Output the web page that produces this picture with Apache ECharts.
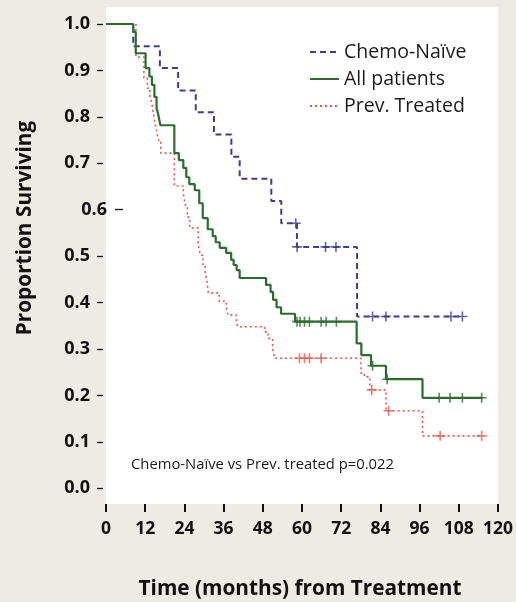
<!DOCTYPE html>
<html><head><meta charset="utf-8">
<script src="https://cdn.jsdelivr.net/npm/echarts@6/dist/echarts.min.js"></script>
<style>html,body{margin:0;padding:0;background:#eeebe5}#c{width:516px;height:602px}</style>
</head><body><div id="c"></div>
<script>
// ---- Data ----
const xTickValues = [0, 12, 24, 36, 48, 60, 72, 84, 96, 108, 120];
const yTickValues = [0, 0.1, 0.2, 0.3, 0.4, 0.5, 0.6, 0.7, 0.8, 0.9, 1.0];
const yShiftedTick = [0.6];

const chemoNaiveTimes = [0, 8.34, 16.49, 22.08, 27.48, 33.07, 38.38, 40.92, 50.60, 53.65, 58.45, 76.85];
const chemoNaiveSurv  = [1.0, 0.952, 0.905, 0.857, 0.810, 0.762, 0.714, 0.667, 0.619, 0.571, 0.520, 0.370];
const chemoNaiveEnd = 109.1;
const chemoNaiveCensor = [58.1, 58.5, 67.2, 70.4, 81.6, 85.7, 105.6, 109.1];

const allPatientsTimes = [0, 8.34, 9.10, 12.12, 13.28, 14.05, 14.81, 15.48, 16.03, 16.64, 20.92, 22.29, 23.66, 24.58, 25.50, 27.18, 28.55, 29.62, 31.15, 32.67, 33.59, 34.81, 36.79, 38.32, 39.08, 40.0, 40.92, 49.01, 50.38, 51.15, 52.21, 53.59, 57.86, 76.73, 78.17, 81.13, 85.71, 96.89];
const allPatientsSurv  = [1.0, 0.983, 0.937, 0.905, 0.887, 0.869, 0.843, 0.819, 0.804, 0.782, 0.722, 0.707, 0.690, 0.670, 0.655, 0.642, 0.614, 0.582, 0.558, 0.543, 0.530, 0.518, 0.507, 0.492, 0.481, 0.470, 0.453, 0.438, 0.423, 0.406, 0.390, 0.376, 0.359, 0.312, 0.287, 0.264, 0.235, 0.195];
const allPatientsEnd = 115.3;
const allPatientsCensor = [58.47, 59.39, 60.76, 62.29, 65.86, 67.39, 70.53, 81.6, 86.1, 101.98, 105.3, 109.1, 115.0];

const prevTreatedTimes = [0, 9.16, 11.60, 12.67, 13.44, 14.05, 14.50, 14.96, 15.57, 16.03, 16.79, 20.92, 23.66, 24.27, 24.89, 25.65, 28.24, 28.85, 29.71, 30.38, 30.99, 31.30, 34.66, 36.85, 37.34, 39.91, 40.31, 48.55, 49.62, 50.99, 51.60, 78.08, 79.08, 80.76, 85.71, 96.89];
const prevTreatedSurv  = [1.0, 0.929, 0.884, 0.862, 0.845, 0.828, 0.808, 0.789, 0.767, 0.750, 0.722, 0.651, 0.636, 0.610, 0.584, 0.561, 0.524, 0.502, 0.481, 0.466, 0.442, 0.421, 0.403, 0.390, 0.373, 0.358, 0.348, 0.337, 0.323, 0.302, 0.280, 0.248, 0.240, 0.212, 0.167, 0.113];
const prevTreatedEnd = 115.3;
const prevTreatedCensor = [59.24, 60.76, 62.29, 65.86, 81.37, 86.5, 102.3, 115.0];

const seriesNames = ['Chemo-Naïve', 'All patients', 'Prev. Treated'];
const pValueText = 'Chemo-Naïve vs Prev. treated p=0.022';
const xTitle = 'Time (months) from Treatment';
const yTitle = 'Proportion Surviving';

// ---- Helpers ----
function stepAt(times, surv, t) {
  let v = surv[0];
  for (let i = 0; i < times.length; i++) { if (times[i] <= t) v = surv[i]; }
  return v;
}
function curve(times, surv, end) {
  const d = times.map((t, i) => [t, surv[i]]);
  d.push([end, surv[surv.length - 1]]);
  return d;
}
function censor(times, surv, cs) { return cs.map(t => [t, stepAt(times, surv, t)]); }

const BLUE = '#3d3f8e', GREEN = '#2e6b2e', RED = '#e5574e';
const plus = 'path://M5,0 L5,10 M0,5 L10,5';
const FONT = 'Open Sans';
const Y_MIN = -0.034, Y_MAX = 1.036;
const mainYTicks = yTickValues.filter(v => yShiftedTick.indexOf(v) < 0);

function lineSeries(name, data, color, type, width, z) {
  return { name, type: 'line', step: 'end', data, symbol: 'none', showSymbol: false, z,
    lineStyle: { color, type, width }, itemStyle: { color: 'rgba(0,0,0,0)' }, animation: false };
}
function censorSeries(data, color, z) {
  return { type: 'scatter', data, symbol: plus, symbolSize: 10, z, silent: true, animation: false,
    itemStyle: { color: 'rgba(0,0,0,0)', borderColor: color, borderWidth: 1.6 } };
}

const chart = echarts.init(document.getElementById('c'), null, { renderer: 'canvas' });
chart.setOption({
  backgroundColor: '#eeebe5',
  animation: false,
  textStyle: { fontFamily: FONT },
  grid: { left: 106, right: 17, top: 7.3, bottom: 97.9, containLabel: false, show: true, backgroundColor: '#ffffff', borderWidth: 0 },
  graphic: [
    { type: 'text', left: 131, top: 457, style: { text: pValueText, fontSize: 14.8, fontFamily: FONT, fill: '#1a1a1a' } },
    { type: 'text', x: 300, y: 589, style: { text: xTitle, fontSize: 20.8, fontWeight: 'bold', fontFamily: FONT, fill: '#111', align: 'center', verticalAlign: 'middle' } },
    { type: 'text', x: 25.5, y: 228, rotation: Math.PI / 2, style: { text: yTitle, fontSize: 20.8, fontWeight: 'bold', fontFamily: FONT, fill: '#111', align: 'center', verticalAlign: 'middle' } }
  ],
  legend: {
    data: seriesNames, orient: 'vertical', left: 304, top: 37, itemWidth: 29, itemHeight: 14, itemGap: 7,
    textStyle: { fontSize: 19.5, color: '#1a1a1a', fontFamily: FONT, lineHeight: 20 }
  },
  xAxis: {
    type: 'value', min: 0, max: 120, interval: 12, position: 'bottom',
    axisLine: { show: false, onZero: false }, splitLine: { show: false },
    axisTick: { show: true, inside: false, length: 8, lineStyle: { color: '#111', width: 2 } },
    axisLabel: { fontSize: 17.5, fontWeight: 'bold', color: '#111', margin: 16, fontFamily: FONT }
  },
  yAxis: [
    { type: 'value', min: Y_MIN, max: Y_MAX, offset: 3, position: 'left',
      axisLine: { show: false, onZero: false }, splitLine: { show: false },
      axisTick: { show: true, length: 6, lineStyle: { color: '#111', width: 1.3 }, customValues: mainYTicks },
      axisLabel: { customValues: mainYTicks, formatter: v => v.toFixed(1), fontSize: 18, fontWeight: 'bold', color: '#111', margin: 13, fontFamily: FONT } },
    { type: 'value', min: Y_MIN, max: Y_MAX, offset: -17, position: 'left',
      axisLine: { show: false, onZero: false }, splitLine: { show: false },
      axisTick: { show: true, length: 8, lineStyle: { color: '#111', width: 1.3 }, customValues: yShiftedTick },
      axisLabel: { customValues: yShiftedTick, formatter: v => v.toFixed(1), fontSize: 18, fontWeight: 'bold', color: '#111', margin: 16, fontFamily: FONT } }
  ],
  series: [
    lineSeries(seriesNames[2], curve(prevTreatedTimes, prevTreatedSurv, prevTreatedEnd), RED, [2, 3], 1.6, 2),
    lineSeries(seriesNames[0], curve(chemoNaiveTimes, chemoNaiveSurv, chemoNaiveEnd), BLUE, [6, 4], 2, 3),
    lineSeries(seriesNames[1], curve(allPatientsTimes, allPatientsSurv, allPatientsEnd), GREEN, 'solid', 2.2, 4),
    censorSeries(censor(prevTreatedTimes, prevTreatedSurv, prevTreatedCensor), RED, 5),
    censorSeries(censor(chemoNaiveTimes, chemoNaiveSurv, chemoNaiveCensor), BLUE, 5),
    censorSeries(censor(allPatientsTimes, allPatientsSurv, allPatientsCensor), GREEN, 6)
  ]
});
</script></body></html>
